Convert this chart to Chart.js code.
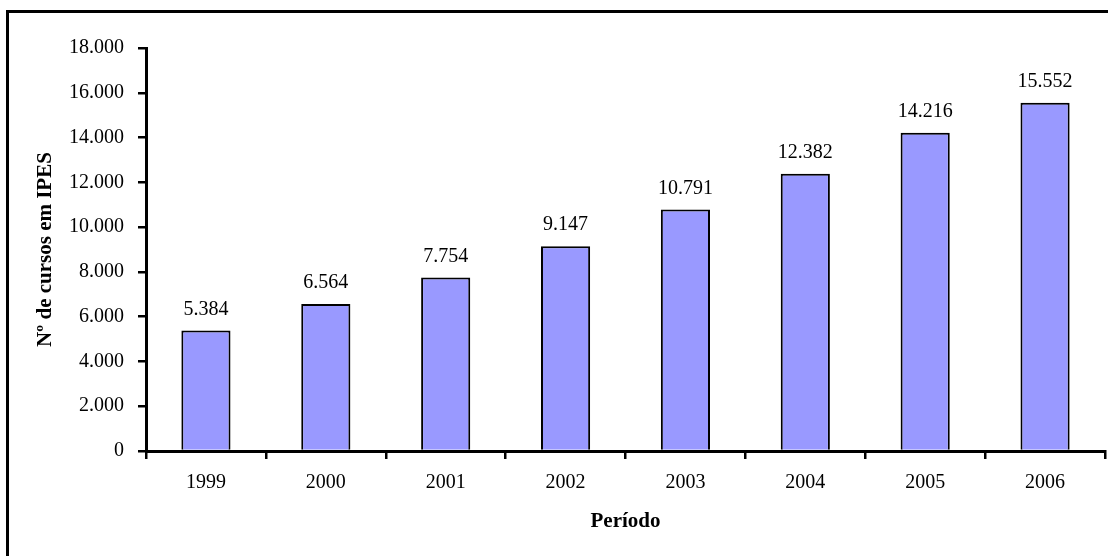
<!DOCTYPE html>
<html>
<head>
<meta charset="utf-8">
<script src="https://cdn.jsdelivr.net/npm/chart.js@4/dist/chart.umd.min.js"></script>
<style>
    html, body { margin: 0; padding: 0; background: #fff; overflow: hidden; }
    #wrap { position: relative; width: 1108px; height: 556px; }
    #frame {
        position: absolute; left: 6px; top: 10px; width: 1200px; height: 700px;
        border-top: 3px solid #000; border-left: 3px solid #000; pointer-events: none;
    }
</style>
</head>
<body>
<div id="wrap">
    <canvas id="cursosChart" width="1108" height="556"></canvas>
    <div id="frame"></div>
</div>
<script>
const years = ['1999', '2000', '2001', '2002', '2003', '2004', '2005', '2006'];
const cursos = [5384, 6564, 7754, 9147, 10791, 12382, 14216, 15552];
const yTicks = [0, 2000, 4000, 6000, 8000, 10000, 12000, 14000, 16000, 18000];

const FONT = "'Liberation Serif', 'Times New Roman', serif";

function fmt(v) {
    return String(v).replace(/\B(?=(\d{3})+(?!\d))/g, '.');
}

const barLabels = {
    id: 'barLabels',
    afterDatasetsDraw(chart) {
        const ctx = chart.ctx;
        const meta = chart.getDatasetMeta(0);
        ctx.save();
        ctx.font = '20px ' + FONT;
        ctx.fillStyle = '#000';
        ctx.textAlign = 'center';
        ctx.textBaseline = 'middle';
        meta.data.forEach((bar, i) => {
            ctx.fillText(fmt(cursos[i]), bar.x, bar.y - 21);
        });
        ctx.restore();
    }
};

const ctx = document.getElementById('cursosChart').getContext('2d');
new Chart(ctx, {
    type: 'bar',
    data: {
        labels: years,
        datasets: [{
            data: cursos,
            backgroundColor: '#9999FF',
            borderColor: '#000',
            borderWidth: 2,
            borderSkipped: 'bottom',
            categoryPercentage: 1,
            barPercentage: 0.41
        }]
    },
    options: {
        responsive: false,
        animation: false,
        devicePixelRatio: 1,
        layout: { padding: { left: 0, right: 3, top: 48, bottom: 0 } },
        plugins: {
            legend: { display: false },
            tooltip: { enabled: false }
        },
        scales: {
            x: {
                afterFit: s => { s.height = 105; },
                border: { color: '#000', width: 3, z: 1 },
                grid: { drawOnChartArea: false, tickLength: 8, tickColor: '#000', lineWidth: 2.5 },
                ticks: { color: '#000', padding: 12, font: { family: FONT, size: 20 } },
                title: {
                    display: true,
                    text: 'Período',
                    color: '#000',
                    padding: { top: 0, bottom: 22 },
                    font: { family: FONT, size: 21, weight: 'bold' }
                }
            },
            y: {
                min: 0,
                max: 18000,
                afterFit: s => { s.width = 146; },
                afterBuildTicks: s => { s.ticks = yTicks.map(v => ({ value: v })); },
                border: { color: '#000', width: 3 },
                grid: { drawOnChartArea: false, tickLength: 8, tickColor: '#000', lineWidth: 2.5 },
                ticks: {
                    color: '#000',
                    padding: 14,
                    font: { family: FONT, size: 20 },
                    callback: v => fmt(v)
                },
                title: {
                    display: true,
                    text: 'Nº de cursos em IPES',
                    color: '#000',
                    padding: { top: 33, bottom: 0 },
                    font: { family: FONT, size: 21, weight: 'bold' }
                }
            }
        }
    },
    plugins: [barLabels]
});
</script>
</body>
</html>
